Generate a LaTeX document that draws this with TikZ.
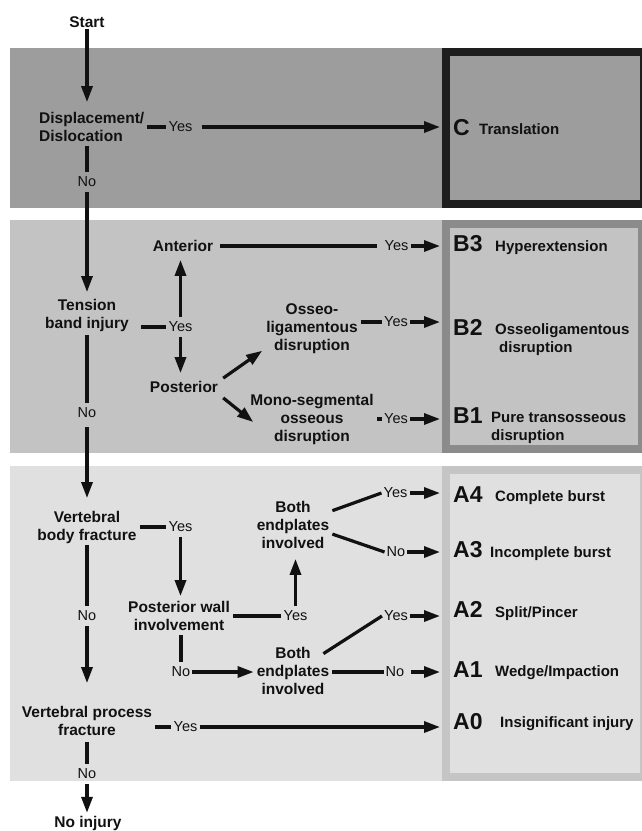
\documentclass[tikz,border=0pt]{standalone}
\usepackage{fontspec}
\setmainfont{Liberation Sans}
\usetikzlibrary{arrows.meta,calc}
\definecolor{cband}{HTML}{9D9D9D}
\definecolor{bband}{HTML}{C3C3C3}
\definecolor{aband}{HTML}{E0E0E0}
\definecolor{cborder}{HTML}{1E1E1E}
\definecolor{bborder}{HTML}{8B8B8B}
\definecolor{aborder}{HTML}{C5C5C5}
\definecolor{txt}{HTML}{111111}
\begin{document}
\begin{tikzpicture}[x=1pt,y=-1pt,
  flow/.style={font=\fontsize{15.5}{18}\selectfont\bfseries, align=center, inner xsep=3pt, inner ysep=1pt, text=txt},
  yn/.style={font=\fontsize{14.5}{17}\selectfont, inner xsep=2pt, inner ysep=5pt, text=txt},
  cls/.style={font=\fontsize{23}{26}\selectfont\bfseries, anchor=base west, inner xsep=13pt, inner ysep=0pt, text=txt},
  desc/.style={font=\fontsize{15}{18}\selectfont\bfseries, inner sep=0pt, text=txt, align=left},
  ln/.style={line width=3.2pt, draw=txt},
  arr/.style={ln, -{Triangle[length=16pt,width=11pt]}},
]
\useasboundingbox (0,0) rectangle (642,831);
\clip (0,0) rectangle (642,831);
% bands
\fill[cband] (10,48) rectangle (642,208);
\fill[bband] (10,220) rectangle (642,453);
\fill[aband] (10,466) rectangle (642,781);
\draw[line width=8pt, draw=cborder] (446,52) rectangle (644,204);
\draw[line width=8pt, draw=bborder] (446,224) rectangle (642,449);
\draw[line width=8pt, draw=aborder] (446,470) rectangle (644,777);

% flow nodes
\node[flow] (start) at (87,22) {Start};
\node[flow, align=left, anchor=west] (disp) at (36,127) {Displacement/\\Dislocation};
\node[flow] (tension) at (87,315.5) {Tension\\band injury};
\node[flow] (vbf) at (87,527.5) {Vertebral\\body fracture};
\node[flow] (vpf) at (87,721) {Vertebral process\\fracture};
\node[flow, anchor=base] (noinj) at (88,827.3) {No injury};
\node[flow] (anterior) at (183,246) {Anterior};
\node[flow] (posterior) at (184,387) {Posterior};
\node[flow] (osseo) at (312,328.5) {Osseo-\\ligamentous\\disruption};
\node[flow] (mono) at (312,419) {Mono-segmental\\osseous\\disruption};
\node[flow] (both1) at (293,525) {Both\\endplates\\involved};
\node[flow] (pw) at (179,616) {Posterior wall\\involvement};
\node[flow] (both2) at (293,671) {Both\\endplates\\involved};

% yes / no labels
\node[yn] (yesC) at (180.5,127) {Yes};
\node[yn] (noC) at (87,182) {No};
\node[yn] (yesT) at (180.5,327) {Yes};
\node[yn] (noB) at (87,413) {No};
\node[yn] (yesB3) at (396.5,246) {Yes};
\node[yn] (yesB2) at (396,322) {Yes};
\node[yn] (yesB1) at (396,419) {Yes};
\node[yn] (yesV) at (180.5,527) {Yes};
\node[yn] (noA) at (87,616) {No};
\node[yn] (yesA4) at (395.5,493) {Yes};
\node[yn] (noA3) at (396,552) {No};
\node[yn] (yesPW) at (295.5,616) {Yes};
\node[yn] (yesA2) at (396,616) {Yes};
\node[yn] (noPW) at (181,672) {No};
\node[yn] (noA1) at (395,672) {No};
\node[yn] (yesVPF) at (185.5,727) {Yes};
\node[yn] (noE) at (87,774) {No};

% classes
\node[cls] (C) at (440,135) {C};
\node[cls] (B3) at (440,251.5) {B3};
\node[cls] (B2) at (440,335) {B2};
\node[cls] (B1) at (440,423) {B1};
\node[cls] (A4) at (440,502) {A4};
\node[cls] (A3) at (440,557) {A3};
\node[cls] (A2) at (440,617) {A2};
\node[cls] (A1) at (440,677) {A1};
\node[cls] (A0) at (440,729) {A0};

\node[desc, anchor=base west] (dC) at (479,134) {Translation};
\node[desc, anchor=base west] (dB3) at (495,251) {Hyperextension};
\node[desc, anchor=west] (dB2) at (495,340) {Osseoligamentous\\\hspace*{4pt}disruption};
\node[desc, anchor=west] (dB1) at (491,428) {Pure transosseous\\disruption};
\node[desc, anchor=base west] (dA4) at (495,501) {Complete burst};
\node[desc, anchor=base west] (dA3) at (490,557) {Incomplete burst};
\node[desc, anchor=base west] (dA2) at (495,617) {Split/Pincer};
\node[desc, anchor=base west] (dA1) at (495,676) {Wedge/Impaction};
\node[desc, anchor=base west] (dA0) at (500,727) {Insignificant injury};

% spine
\draw[arr, shorten >=9pt] (start) -- (start |- disp.north);
\draw[ln, shorten <=3pt] (noC |- disp.south) -- (noC);
\draw[arr, shorten >=6pt] (noC) -- (noC |- tension.north);
\draw[ln, shorten <=2pt] (tension) -- (noB);
\draw[arr, shorten <=4pt, shorten >=12pt] (noB) -- (noB |- vbf.north);
\draw[ln] (vbf) -- (noA);
\draw[arr, shorten >=22pt] (noA) -- (noA |- vpf.north);
\draw[ln, shorten <=5pt] (vpf) -- (noE);
\draw[arr, shorten >=2pt] (noE) -- (noE |- noinj.north);

% C
\draw[ln] (disp) -- (yesC);
\draw[arr, shorten <=7pt] (yesC) -- (yesC -| C.west);

% B
\draw[ln, shorten <=9pt] (yesT.west -| tension.east) -- (yesT.west);
\draw[arr, shorten >=7pt] (yesT) -- (yesT |- anterior.south);
\draw[arr, shorten >=7pt] (yesT) -- (yesT |- posterior.north);
\draw[ln, shorten <=4pt, shorten >=5pt] (anterior) -- (yesB3);
\draw[arr] (yesB3) -- (yesB3 -| B3.west);
\draw[ln] (yesB2.west -| osseo.east) -- (yesB2.west);
\draw[arr] (yesB2) -- (yesB2 -| B2.west);
\draw[ln] (yesB1.west -| mono.east) -- (yesB1.west);
\draw[arr] (yesB1) -- (yesB1 -| B1.west);
\draw[arr] ($(posterior.north east)+(2,-2)$) -- ($(osseo.south west)+(-1,-4)$);
\draw[arr] ($(posterior.south east)+(2,4)$) -- ($(mono.west)+(6,3)$);

% A
\draw[ln] (yesV.west -| vbf.east) -- (yesV.west);
\draw[arr, shorten >=4pt] (yesV) -- (yesV |- pw.north);
\draw[ln] (pw) -- (yesPW);
\draw[arr, shorten >=9pt] (yesPW) -- (yesPW |- both1.south);
\draw[ln] (both1.20) -- (yesA4.west);
\draw[arr] (yesA4) -- (yesA4 -| A4.west);
\draw[ln] (both1.-13) -- (noA3.west);
\draw[arr] (noA3) -- (noA3 -| A3.west);
\draw[ln, shorten <=3pt] (pw.south -| noPW) -- (noPW);
\draw[arr] (noPW) -- (noPW -| both2.west);
\draw[ln] ($(both2.25)+(-9,1)$) -- (yesA2.west);
\draw[arr] (yesA2) -- (yesA2 -| A2.west);
\draw[ln] (noA1.west -| both2.east) -- (noA1.west);
\draw[arr, shorten <=5pt] (noA1) -- (noA1 -| A1.west);
\draw[ln] (yesVPF.west -| vpf.east) -- (yesVPF.west);
\draw[arr] (yesVPF) -- (yesVPF -| A0.west);
\end{tikzpicture}
\end{document}
